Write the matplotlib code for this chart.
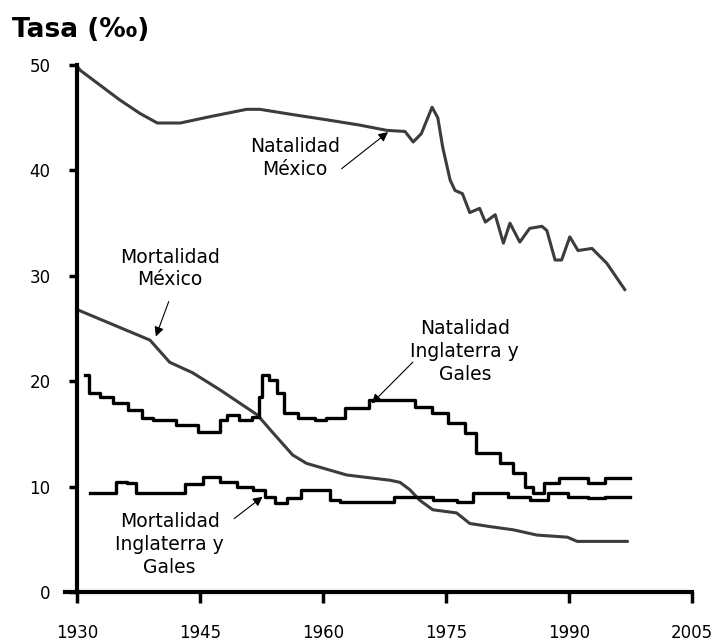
import matplotlib.pyplot as plt

# Natalidad México
nat_mx_years = [1930, 1930.4, 1935.2, 1937.7, 1939.8, 1942.6, 1946.2, 1950.7, 1952.3, 1956.3,
                1960.5, 1964.5, 1967.8, 1970, 1971, 1972, 1973.3, 1974, 1974.6, 1975.5,
                1976.1, 1977, 1977.9, 1979.1, 1979.8, 1981, 1982, 1982.8, 1984, 1985.2,
                1986.7, 1987.3, 1988.3, 1989.1, 1990.1, 1991.1, 1992.8, 1994.6, 1996.8]
nat_mx = [49.9, 49.5, 46.7, 45.4, 44.5, 44.5, 45.1, 45.8, 45.8, 45.3,
          44.8, 44.3, 43.8, 43.7, 42.7, 43.5, 46.0, 45.0, 42.2, 39.1,
          38.1, 37.8, 36.0, 36.4, 35.1, 35.8, 33.1, 35.0, 33.2, 34.5,
          34.7, 34.3, 31.5, 31.5, 33.7, 32.4, 32.6, 31.2, 28.7]

# Mortalidad México
mort_mx_years = [1930, 1938.9, 1941.3, 1944.1, 1947.4, 1952, 1953.9, 1956.3, 1958, 1962.9,
                 1968.2, 1969.4, 1970.6, 1971.8, 1973.4, 1976.3, 1977.9, 1980.4, 1983.2,
                 1986.1, 1989.8, 1991, 1997.1]
mort_mx = [26.8, 23.9, 21.8, 20.8, 19.2, 16.8, 15.1, 13.0, 12.2, 11.1,
           10.6, 10.4, 9.7, 8.7, 7.8, 7.5, 6.5, 6.2, 5.9,
           5.4, 5.2, 4.8, 4.8]

# Natalidad Inglaterra y Gales
nat_ig_years = [1931, 1932, 1933.7, 1935.2, 1937.3, 1938.5, 1940.1, 1944.1, 1945.4, 1947,
                1947.8, 1948.7, 1950.7, 1952, 1952.3, 1952.9, 1953.9, 1955, 1955.6, 1958.4,
                1959.6, 1961.2, 1964.1, 1967, 1970.2, 1972.2, 1974.3, 1976.3, 1978.3, 1979.1,
                1980.7, 1982.4, 1984, 1985.2, 1986.1, 1987.7, 1989.8, 1991.3, 1993.4, 1995.4,
                1997.4]
nat_ig = [20.6, 18.9, 18.5, 17.9, 17.3, 16.5, 16.3, 15.8, 15.2, 15.2,
          16.3, 16.8, 16.3, 16.6, 18.5, 20.6, 20.1, 18.9, 17.0, 16.5,
          16.3, 16.5, 17.5, 18.2, 18.2, 17.6, 17.0, 16.0, 15.1, 13.2,
          13.2, 12.2, 11.3, 10.0, 9.4, 10.3, 10.8, 10.8, 10.3, 10.8,
          10.8]

# Mortalidad Inglaterra y Gales
mort_ig_years = [1931.6, 1934, 1935.6, 1936.7, 1937.7, 1942.2, 1944.1, 1946.6, 1948.3, 1950.7,
                 1952.3, 1953.5, 1954.8, 1956.3, 1958.4, 1960.5, 1961.2, 1962.9, 1968.2, 1969,
                 1971.8, 1975.1, 1977.6, 1979.1, 1981.2, 1984, 1986.5, 1988.5, 1991.3, 1993.4,
                 1995.4, 1997.4]
mort_ig = [9.4, 9.4, 10.4, 10.3, 9.4, 9.4, 10.2, 10.9, 10.4, 10.0,
           9.7, 9.0, 8.4, 8.9, 9.7, 9.7, 8.7, 8.5, 8.5, 9.0,
           9.0, 8.7, 8.5, 9.4, 9.4, 9.0, 8.7, 9.4, 9.0, 8.9,
           9.0, 9.0]

x_ticks = [1930, 1945, 1960, 1975, 1990, 2005]
y_ticks = [0, 10, 20, 30, 40, 50]

fig = plt.figure(figsize=(7.23, 6.42), dpi=100)
ax = fig.add_axes([0.0838, 0.0615, 0.896, 0.870])
ax.set_xlim(1928, 2007)
ax.set_ylim(-1, 52)

gray = "#3c3c3c"
ax.plot(nat_mx_years, nat_mx, color=gray, lw=2.2)
ax.plot(mort_mx_years, mort_mx, color=gray, lw=2.2)
ax.plot(nat_ig_years, nat_ig, color="black", lw=2.4, drawstyle="steps-mid")
ax.plot(mort_ig_years, mort_ig, color="black", lw=2.4, drawstyle="steps-mid")

for s in ["top", "right"]:
    ax.spines[s].set_visible(False)
ax.spines["left"].set_position(("data", 1930))
ax.spines["left"].set_bounds(0, 50)
ax.spines["bottom"].set_position(("data", 0))
ax.spines["bottom"].set_bounds(1928.5, 2005)
for s in ["left", "bottom"]:
    ax.spines[s].set_linewidth(3)

ax.set_xticks(x_ticks)
ax.set_yticks(y_ticks)
ax.tick_params(axis="x", direction="out", length=8, width=2.5, pad=15, labelsize=12)
ax.tick_params(axis="y", direction="out", length=6, width=2.5, pad=13, labelsize=12)

fig.text(0.017, 0.953, "Tasa (‰)", fontsize=19, fontweight="bold", va="center", ha="left")

arrow = dict(arrowstyle="-|>", color="black", lw=0.8, mutation_scale=14)
tkw = dict(ha="center", va="center", fontsize=13.5, linespacing=1.25)

ax.annotate("", xy=(1968.2, 43.8), xytext=(1962.0, 40.0), arrowprops=arrow)
ax.text(1956.6, 41.2, "Natalidad\nMéxico", **tkw)

ax.annotate("", xy=(1939.5, 24.0), xytext=(1941.3, 27.8), arrowprops=arrow)
ax.text(1941.3, 30.7, "Mortalidad\nMéxico", **tkw)

ax.annotate("", xy=(1965.7, 17.7), xytext=(1971.2, 22.0), arrowprops=arrow)
ax.text(1977.3, 22.8, "Natalidad\nInglaterra y\nGales", **tkw)

ax.annotate("", xy=(1952.9, 9.2), xytext=(1948.9, 6.8), arrowprops=arrow)
ax.text(1941.3, 4.5, "Mortalidad\nInglaterra y\nGales", **tkw)

fig.savefig("out.png", dpi=100)
